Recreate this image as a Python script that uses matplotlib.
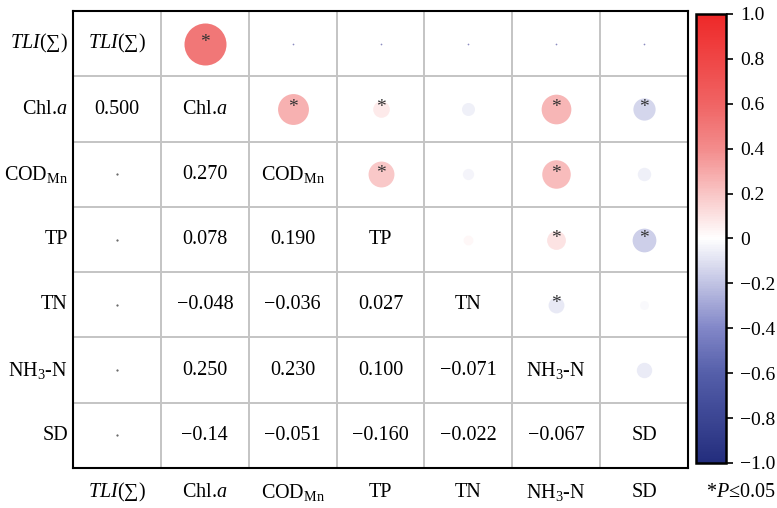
import numpy as np
import matplotlib
matplotlib.use("Agg")
import matplotlib.pyplot as plt
from matplotlib.colors import LinearSegmentedColormap, Normalize
from matplotlib.colorbar import ColorbarBase

plt.rcParams['font.family'] = ['Liberation Serif', 'DejaVu Serif']
plt.rcParams['mathtext.fontset'] = 'custom'
plt.rcParams['mathtext.rm'] = 'Liberation Serif'
plt.rcParams['mathtext.it'] = 'Liberation Serif:italic'

# 变量名称
names = [r'$\it{TLI}$(∑)', r'Chl.$\it{a}$', r'COD$_{\rm Mn}$', 'TP', 'TN',
         r'NH$_3$-N', 'SD']

# 下三角的相关系数（按行），TLI 一列不显示数值
lower = [
    [],
    ['0.500'],
    ['', '0.270'],
    ['', '0.078', '0.190'],
    ['', '−0.048', '−0.036', '0.027'],
    ['', '0.250', '0.230', '0.100', '−0.071'],
    ['', '−0.14', '−0.051', '−0.160', '−0.022', '−0.067'],
]
# TLI 与其余指标（第一行小点）
tli_r = [0.500, -0.001, -0.001, -0.001, -0.001, -0.001]
# 显著性 P<=0.05 的上三角格子 (行, 列)
sig = [(0, 1), (1, 2), (1, 3), (1, 5), (1, 6), (2, 3), (2, 5), (3, 5),
       (3, 6), (4, 5)]

n = len(names)
r = np.zeros((n, n))
for i in range(1, n):
    for j, s in enumerate(lower[i]):
        if s:
            r[i, j] = r[j, i] = float(s.replace('−', '-'))
for j, v in enumerate(tli_r):
    r[0, j + 1] = r[j + 1, 0] = v

cmap = LinearSegmentedColormap.from_list('rb', [
    (0.0, '#232d7d'), (0.2, '#555faa'), (0.3, '#8287c8'), (0.5, '#ffffff'),
    (0.7, '#f38c8c'), (0.8, '#f06464'), (1.0, '#ee2828')])
norm = Normalize(-1, 1)

fig = plt.figure(figsize=(7.77, 5.08), dpi=100)
ax = fig.add_axes([0.094, 0.0787, 0.7915, 0.8993])
ax.set_xlim(-0.5, n - 0.5)
ax.set_ylim(n - 0.5, -0.5)

for k in range(1, n):
    ax.axhline(k - 0.5, color='#c4c4c4', lw=1.4, zorder=1)
    ax.axvline(k - 0.5, color='#c4c4c4', lw=1.4, zorder=1)

fs = 14.5
for i in range(n):
    for j in range(n):
        if i == j:
            ax.text(j, i, names[i], ha='center', va='center', fontsize=fs)
        elif i > j:
            s = lower[i][j]
            if s:
                ax.text(j, i, s, ha='center', va='center', fontsize=fs)
            else:
                ax.scatter(j, i, s=0.3, color='#555555', zorder=3)
        else:
            v = r[i, j]
            if abs(v) < 0.01:
                ax.scatter(j, i, s=1.5, color='#8c8cc0', lw=0, zorder=3)
            else:
                ax.scatter(j, i, s=1830 * abs(v), color=cmap(norm(v)),
                           lw=0, zorder=3)
            if (i, j) in sig:
                ax.text(j, i - 0.02, '*', ha='center', va='center',
                        fontsize=14, color='#333333', zorder=4)

ax.set_xticks([])
ax.set_yticks([])
for sp in ax.spines.values():
    sp.set_linewidth(1.5)

# 坐标轴外的标签
for k in range(n):
    ax.text(k, n - 0.5 + 0.37, names[k], ha='center', va='center',
            fontsize=fs, clip_on=False)
    ax.text(-0.56, k, names[k], ha='right', va='center', fontsize=fs,
            clip_on=False)
fig.text(0.953, 0.031, r'*$\it{P}$≤0.05', ha='center', va='center',
         fontsize=fs)

cax = fig.add_axes([0.8958, 0.0886, 0.0386, 0.884])
cb = ColorbarBase(cax, cmap=cmap, norm=norm)
ticks = np.linspace(-1, 1, 11)
cb.set_ticks(ticks)
cb.set_ticklabels(['−1.0', '−0.8', '−0.6', '−0.4', '−0.2', '0',
                   '0.2', '0.4', '0.6', '0.8', '1.0'])
cb.ax.tick_params(labelsize=14, length=5, width=1.2, direction='out', pad=5)
cb.outline.set_linewidth(1.8)

fig.savefig('out.png', dpi=100)
